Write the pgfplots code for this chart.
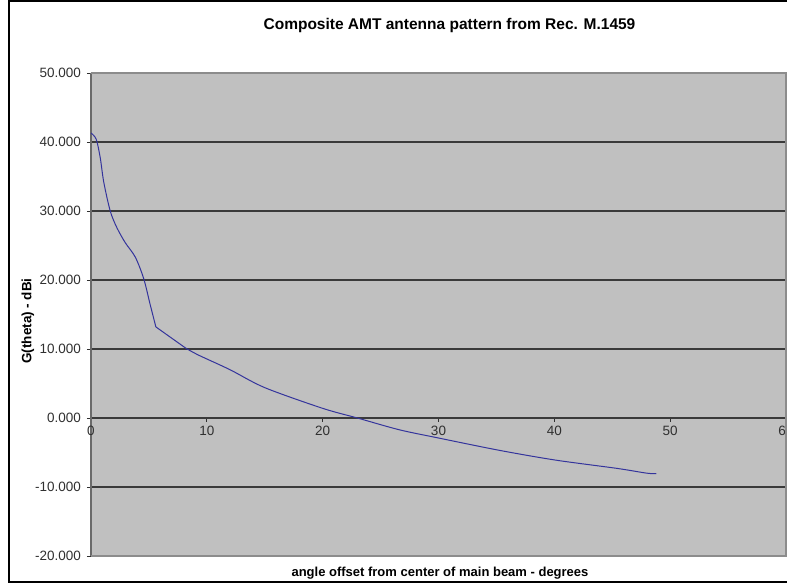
\documentclass[border=0pt]{standalone}
\usepackage{pgfplots}
\pgfplotsset{compat=1.18}
\usepackage{fontspec}
\setmainfont{Liberation Sans}
\definecolor{plotbg}{HTML}{C0C0C0}
\definecolor{gridc}{HTML}{3A3A3A}
\definecolor{borderc}{HTML}{8C8C8C}
\definecolor{yaxisc}{HTML}{6A6A6A}
\definecolor{serieslc}{HTML}{34349C}
\definecolor{ticklc}{HTML}{303030}
\begin{document}
\begin{tikzpicture}[x=1pt,y=1pt]
\useasboundingbox (0,0) rectangle (787,583);
\begin{axis}[
  at={(91pt,27pt)}, anchor=south west,
  scale only axis, width=695pt, height=483pt,
  xmin=0, xmax=60, ymin=-20, ymax=50,
  axis x line=middle, axis y line=left,
  axis line style={-},
  x axis line style={draw=gridc, line width=1.2pt},
  y axis line style={draw=yaxisc, line width=1.3pt},
  tick align=outside, major tick length=4pt,
  every tick/.style={draw=ticklc, line width=0.8pt},
  hide obscured x ticks=false,
  xtick={0,10,20,30,40,50,60},
  xticklabels={0,10,20,30,40,50,60},
  ytick={-20,-10,0,10,20,30,40,50},
  yticklabels={-20.000,-10.000,0.000,10.000,20.000,30.000,40.000,50.000},
  ymajorgrids, grid style={draw=gridc, line width=1.2pt},
  axis background/.style={fill=plotbg},
  x tick label style={font=\fontsize{13.5}{16}\selectfont, text=ticklc, anchor=north, yshift=-1pt},
  y tick label style={font=\fontsize{13.5}{16}\selectfont, text=ticklc, anchor=east, xshift=-2.5pt},
  clip=false,
]
\addplot[color=serieslc, line width=1pt, smooth, tension=0.5] coordinates {
(0,41.3)(0.45,40.4)(0.8,37.7)(1.1,34.2)(1.66,30.0)(2.23,27.6)(2.96,25.4)
(3.83,23.3)(4.55,20.2)(5.1,16.5)(5.6,13.2)
};
\addplot[color=serieslc, line width=1pt] coordinates {
(5.6,13.2)(8.2,10.1)
};
\addplot[color=serieslc, line width=1pt, smooth, tension=0.5] coordinates {
(8.2,10.1)(9.3,9.1)(12.0,7.0)(15.0,4.4)(20.0,1.4)(23.0,0.0)(26.6,-1.7)(30.0,-2.9)
(35.3,-4.7)(40.1,-6.1)(45.4,-7.3)(48.0,-8.0)(48.8,-8.05)
};
\draw[borderc, line width=1.2pt] (rel axis cs:0,1) -- (rel axis cs:1,1) -- (rel axis cs:1,0) -- (rel axis cs:0,0);
\end{axis}
\node[font=\bfseries\fontsize{15.5}{18}\selectfont] at (449.5,557) {Composite AMT antenna pattern from Rec. M.1459};
\node[font=\bfseries\fontsize{13.5}{16}\selectfont, rotate=90] at (28,262) {G(theta) - dBi};
\node[font=\bfseries\fontsize{13}{16}\selectfont, anchor=base] at (440,6) {angle offset from  center of main  beam - degrees};
\draw[black, line width=2pt] (800,1) -- (9,1) -- (9,582) -- (800,582);
\end{tikzpicture}
\end{document}
